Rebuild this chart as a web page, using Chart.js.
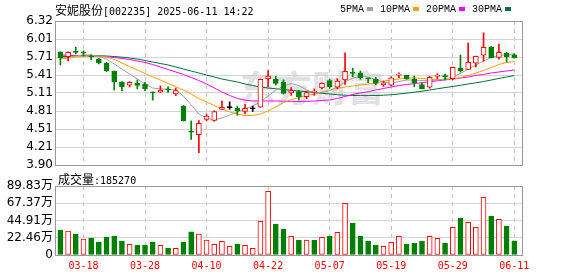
<!DOCTYPE html>
<html>
<head>
<meta charset="utf-8">
<script src="https://cdn.jsdelivr.net/npm/chart.js@4.4.1/dist/chart.umd.min.js"></script>
<style>
html, body { margin: 0; padding: 0; background: #fff; }
#wrap { position: relative; width: 578px; height: 276px; overflow: hidden; background: #fff; }
#wrap canvas { position: absolute; left: 0; top: 0; }
.txt { position: absolute; white-space: nowrap; color: #000; line-height: 14px; }
.cjk { font: 12px "Noto Sans CJK SC"; }
.mono { font: 10px "DejaVu Sans Mono"; }
#legend { position: absolute; left: 340px; top: 2px; display: flex; align-items: center; height: 14px; }
#legend span.lbl { font: 10px "Liberation Mono"; color: #000; }
#legend span.sq { display: inline-block; width: 6px; height: 4px; margin-left: 3px; margin-right: 7px; }
</style>
</head>
<body>
<div id="wrap">
  <canvas id="price" width="578" height="276"></canvas>
  <canvas id="vol" width="578" height="276"></canvas>
  <div class="txt" style="left:55px;top:1px;"><span class="cjk">安妮股份</span><span class="mono">[002235] 2025-06-11 14:22</span></div>
  <div id="legend"></div>
  <div class="txt" id="volLabel" style="left:58px;top:170px;"></div>
</div>
<script>
// trading days shown on the chart
const dates = ['03-13','03-14','03-17','03-18','03-19','03-20','03-21','03-24','03-25','03-26','03-27','03-28','03-31',
  '04-01','04-02','04-03','04-07','04-08','04-09','04-10','04-11','04-14','04-15','04-16','04-17','04-18','04-21','04-22','04-23','04-24','04-25','04-28','04-29','04-30',
  '05-06','05-07','05-08','05-09','05-12','05-13','05-14','05-15','05-16','05-19','05-20','05-21','05-22','05-23','05-26','05-27','05-28','05-29','05-30',
  '06-03','06-04','06-05','06-06','06-09','06-10','06-11'];
const tickDates = ['03-18','03-28','04-10','04-22','05-07','05-19','05-29','06-11'];

const openP = [5.80,5.72,5.816,5.785,5.72,5.68,5.609,5.48,5.295,5.24,
  5.273,5.256,5.12,5.122,5.165,5.093,4.891,4.46,4.409,4.668,
  4.651,4.836,4.865,4.858,4.80,4.846,4.87,5.35,5.345,5.295,
  5.11,5.132,5.048,5.12,5.194,5.317,5.21,5.328,5.448,5.45,
  5.358,5.34,5.245,5.24,5.41,5.41,5.345,5.25,5.206,5.39,
  5.39,5.35,5.53,5.508,5.61,5.744,5.888,5.71,5.777,5.753];
const highP = [5.80,5.80,5.88,5.82,5.75,5.693,5.626,5.48,5.30,5.30,
  5.33,5.29,5.13,5.23,5.215,5.194,4.90,4.64,4.645,4.757,
  4.81,4.976,4.96,4.89,4.92,4.89,5.345,5.485,5.39,5.33,
  5.20,5.155,5.143,5.18,5.28,5.34,5.35,5.787,5.525,5.48,
  5.36,5.37,5.31,5.384,5.45,5.41,5.395,5.283,5.39,5.435,
  5.43,5.545,5.75,5.95,5.73,6.12,5.89,5.933,5.795,5.77];
const lowP = [5.58,5.65,5.765,5.73,5.67,5.597,5.47,5.16,5.149,5.21,
  5.18,5.15,4.99,5.12,5.12,5.065,4.64,4.33,4.107,4.64,
  4.635,4.83,4.836,4.735,4.757,4.80,4.87,5.216,5.245,5.093,
  5.07,4.99,5.014,5.07,5.18,5.19,5.18,5.256,5.384,5.34,
  5.283,5.245,5.22,5.23,5.367,5.34,5.216,5.18,5.19,5.35,
  5.33,5.34,5.46,5.50,5.547,5.643,5.70,5.68,5.63,5.698];
const closeP = [5.70,5.795,5.79,5.78,5.715,5.614,5.48,5.295,5.216,5.29,
  5.239,5.182,5.11,5.16,5.16,5.149,4.644,4.45,4.601,4.723,
  4.796,4.87,4.865,4.813,4.853,4.846,5.34,5.396,5.273,5.105,
  5.149,5.048,5.115,5.135,5.273,5.216,5.31,5.475,5.44,5.367,
  5.35,5.273,5.283,5.367,5.42,5.35,5.283,5.18,5.374,5.398,
  5.384,5.542,5.485,5.626,5.727,5.878,5.703,5.794,5.715,5.698];

// moving averages
const ma5 = [5.698,5.707,5.732,5.749,5.749,5.723,5.681,5.597,5.513,5.429,
  5.345,5.261,5.194,5.177,5.177,5.160,5.060,4.908,4.757,4.690,
  4.656,4.690,4.740,4.791,4.841,4.891,4.959,5.060,5.160,5.228,
  5.270,5.236,5.160,5.110,5.118,5.152,5.211,5.295,5.362,5.387,
  5.379,5.337,5.295,5.278,5.303,5.328,5.328,5.320,5.317,5.328,
  5.345,5.379,5.438,5.513,5.581,5.648,5.707,5.740,5.757,5.765];
const ma10 = [5.681,5.698,5.715,5.727,5.732,5.732,5.715,5.673,5.614,5.555,
  5.497,5.438,5.379,5.328,5.270,5.216,5.160,5.093,5.018,4.959,
  4.900,4.841,4.791,4.757,4.732,4.732,4.757,4.807,4.875,4.950,
  5.001,5.034,5.068,5.093,5.127,5.160,5.186,5.211,5.228,5.244,
  5.261,5.278,5.312,5.328,5.345,5.362,5.362,5.354,5.345,5.337,
  5.337,5.345,5.370,5.404,5.446,5.488,5.539,5.589,5.623,5.639];
const ma20 = [5.749,5.744,5.739,5.735,5.732,5.727,5.720,5.707,5.690,5.673,
  5.648,5.623,5.589,5.547,5.505,5.463,5.421,5.370,5.320,5.261,
  5.194,5.127,5.068,5.018,4.989,4.976,4.976,4.976,4.976,4.972,
  4.969,4.967,4.969,4.976,4.984,4.992,5.018,5.051,5.085,5.110,
  5.132,5.160,5.186,5.211,5.236,5.253,5.268,5.283,5.300,5.315,
  5.330,5.345,5.362,5.379,5.404,5.424,5.446,5.463,5.480,5.497];
const ma30 = [5.715,5.732,5.740,5.740,5.740,5.737,5.732,5.723,5.712,5.698,
  5.681,5.656,5.631,5.606,5.581,5.547,5.513,5.480,5.446,5.412,
  5.379,5.345,5.320,5.295,5.261,5.236,5.211,5.194,5.181,5.169,
  5.155,5.144,5.132,5.118,5.105,5.093,5.081,5.073,5.068,5.066,
  5.066,5.068,5.073,5.081,5.093,5.107,5.123,5.140,5.160,5.181,
  5.201,5.219,5.239,5.261,5.281,5.303,5.328,5.354,5.379,5.404];

const volume = [325000,312000,273000,208000,221000,169000,234000,247000,182000,139000,
  130000,130000,169000,126000,91000,87000,169000,303000,273000,195000,
  139000,178000,113000,139000,126000,87000,439000,829000,404000,338000,
  243000,195000,195000,195000,230000,247000,295000,673000,417000,247000,
  182000,130000,113000,165000,243000,139000,152000,182000,243000,217000,
  152000,361000,482000,426000,361000,751000,508000,465000,378000,185270];
// 1 = rising day (red hollow), 0 = falling day (green)
const volUp = [0,1,0,1,0,0,0,0,0,1, 0,0,0,1,0,1,0,0,1,1, 1,1,1,0,1,1,1,1,0,0,
  1,0,1,0,1,0,1,1,0,0, 0,0,1,1,1,0,0,0,1,1, 0,1,0,1,1,1,0,1,0,0];

const priceTicks = ['3.90','4.21','4.51','4.81','5.11','5.41','5.71','6.01','6.32'];
const priceMin = 3.90, priceMax = 6.32;
const volTicks = ['0','22.46万','44.91万','67.37万','89.83万'];
const volMax = 898300;

const maNames = ['5PMA','10PMA','20PMA','30PMA'];
const maColors = ['#a0a0a0','#f5a300','#ff00ff','#006f3a'];

const RED = '#ff0000', GREEN = '#008000', BLACK = '#000000';
const candleColor = i => closeP[i] > openP[i] ? RED : (closeP[i] < openP[i] ? GREEN : BLACK);

// legend and volume caption
const legend = document.getElementById('legend');
maNames.forEach((n, k) => {
  legend.insertAdjacentHTML('beforeend',
    '<span class="lbl">' + n + '</span><span class="sq" style="background:' + maColors[k] + '"></span>');
});
document.getElementById('volLabel').innerHTML =
  '<span class="cjk">成交量</span><span class="mono">:' + volume[volume.length - 1] + '</span>';

const tickIdx = tickDates.map(d => dates.indexOf(d));
const X_MIN = -0.7, X_MAX = 60;

const frame = {
  id: 'frame',
  beforeDatasetsDraw(chart) {
    const {ctx, chartArea: a} = chart;
    ctx.save();
    ctx.strokeStyle = '#999999';
    ctx.lineWidth = 1;
    ctx.strokeRect(a.left + 0.5, a.top + 0.5, a.right - a.left, a.bottom - a.top);
    ctx.restore();
  }
};

const watermark = {
  id: 'watermark',
  beforeDatasetsDraw(chart) {
    const ctx = chart.ctx;
    ctx.save();
    ctx.font = 'bold 36px "Noto Sans CJK SC"';
    ctx.fillStyle = 'rgba(200,200,208,0.55)';
    ctx.textAlign = 'center';
    ctx.textBaseline = 'middle';
    ctx.fillText('东方财富', 312, 88);
    ctx.restore();
  }
};

function xScale(showLabels) {
  return {
    type: 'linear',
    min: X_MIN,
    max: X_MAX,
    offset: false,
    afterBuildTicks: s => { s.ticks = tickIdx.map(v => ({value: v})); },
    afterFit: s => { s.height = showLabels ? 21 : 0; },
    grid: { color: '#c4c4c4', lineWidth: 1, drawTicks: false, offset: false },
    border: { display: false, dash: [4, 4] },
    ticks: {
      display: showLabels,
      autoSkip: false,
      maxRotation: 0,
      padding: 5,
      color: RED,
      font: { family: 'DejaVu Sans Mono', size: 10 },
      callback: v => dates[v]
    }
  };
}

const idx = dates.map((d, i) => i);

new Chart(document.getElementById('price'), {
  data: {
    datasets: [
      ...maNames.map((n, k) => ({
        type: 'line',
        label: n,
        data: idx.map(i => ({x: i, y: [ma5, ma10, ma20, ma30][k][i]})),
        borderColor: maColors[k],
        borderWidth: 1,
        pointRadius: 0,
        tension: 0,
        order: 5
      })),
      {
        type: 'bar',
        label: 'wick',
        data: idx.map(i => ({x: i, y: [lowP[i], highP[i]]})),
        backgroundColor: c => candleColor(c.dataIndex),
        borderWidth: 0,
        barThickness: 1,
        grouped: false,
        order: 2
      },
      {
        type: 'bar',
        label: 'body',
        data: idx.map(i => ({x: i, y: [openP[i], closeP[i]]})),
        backgroundColor: c => candleColor(c.dataIndex) === RED ? '#ffffff' : candleColor(c.dataIndex),
        borderColor: c => candleColor(c.dataIndex),
        borderWidth: 1,
        borderSkipped: false,
        barThickness: 5,
        minBarLength: 1,
        grouped: false,
        order: 1
      }
    ]
  },
  options: {
    responsive: false,
    animation: false,
    layout: { padding: { left: 0, top: 21, right: 56, bottom: 111 } },
    plugins: { legend: { display: false }, tooltip: { enabled: false } },
    scales: {
      x: xScale(false),
      y: {
        min: priceMin,
        max: priceMax,
        afterBuildTicks: s => {
          s.ticks = priceTicks.map((t, k) => ({value: priceMin + k * (priceMax - priceMin) / (priceTicks.length - 1)}));
        },
        afterFit: s => { s.width = 55; },
        grid: { color: '#d4d4d4', drawTicks: false },
        border: { display: false },
        ticks: {
          autoSkip: false,
          padding: 2,
          color: '#000',
          font: { family: 'DejaVu Sans', size: 12 },
          callback: (v, k) => priceTicks[k]
        }
      }
    }
  },
  plugins: [watermark, frame]
});

new Chart(document.getElementById('vol'), {
  data: {
    datasets: [{
      type: 'bar',
      label: '成交量',
      data: idx.map(i => ({x: i, y: volume[i]})),
      backgroundColor: c => volUp[c.dataIndex] ? '#ffffff' : GREEN,
      borderColor: c => volUp[c.dataIndex] ? RED : GREEN,
      borderWidth: 1,
      borderSkipped: false,
      barThickness: 5,
      grouped: false
    }]
  },
  options: {
    responsive: false,
    animation: false,
    layout: { padding: { left: 0, top: 186, right: 56, bottom: 0 } },
    plugins: { legend: { display: false }, tooltip: { enabled: false } },
    scales: {
      x: xScale(true),
      y: {
        min: 0,
        max: volMax,
        afterBuildTicks: s => {
          s.ticks = volTicks.map((t, k) => ({value: k * volMax / (volTicks.length - 1)}));
        },
        afterFit: s => { s.width = 55; },
        grid: { color: '#d4d4d4', drawTicks: false },
        border: { display: false },
        ticks: {
          autoSkip: false,
          padding: 2,
          color: '#000',
          font: { family: 'DejaVu Sans, Noto Sans CJK SC', size: 12 },
          callback: (v, k) => volTicks[k]
        }
      }
    }
  },
  plugins: [frame]
});
</script>
</body>
</html>
